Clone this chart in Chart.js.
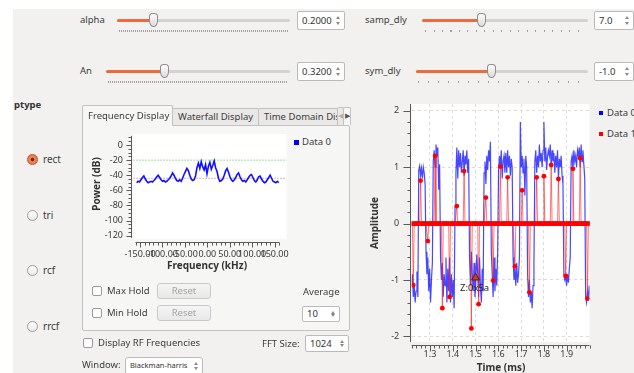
<!DOCTYPE html>
<html><head><meta charset="utf-8">
<script src="https://cdn.jsdelivr.net/npm/chart.js@4.4.1/dist/chart.umd.min.js"></script>
<style>
html,body{margin:0;padding:0}
body{width:634px;height:373px;position:relative;overflow:hidden;background:#ffffff;font-family:"Noto Sans",sans-serif;font-size:9.5px;color:#3c3c3c}
div{box-sizing:border-box}
#win{position:absolute;left:13px;top:9px;right:0;bottom:0;background:#f2f1f0}
.t{position:absolute;white-space:nowrap;line-height:12px;transform:translateY(-6px)}
.b{font-weight:bold;color:#333}
.track{position:absolute;height:3px;background:#d2d2d2;border-radius:2px}
.fill{position:absolute;height:3px;background:#ea6c3c;border-radius:2px}
.handle{position:absolute;width:9px;height:14px;background:linear-gradient(#fcfcfc,#dcdcdc);border:1px solid #8e8e8e;border-radius:4px 4px 5px 5px/4px 4px 7px 7px}
.dots{position:absolute;height:2px;background:repeating-linear-gradient(90deg,#a0a0a0 0 1px,transparent 1px 2px)}
.spin{position:absolute;background:#fff;border:1px solid #bababa;border-radius:2px;padding-left:4px;line-height:17px;font-size:9.5px;color:#333}
.up,.dn{position:absolute;width:0;height:0;border-left:2px solid transparent;border-right:2px solid transparent;right:4px}
.up{border-bottom:3px solid #8a8a8a;top:4px}
.dn{border-top:3px solid #8a8a8a;bottom:4px}
.radio{position:absolute;width:11px;height:11px;border-radius:50%;border:1px solid #9c9c9c;background:linear-gradient(#ffffff,#ebebeb)}
.radio.on{border-color:#c2532a;background:radial-gradient(circle,#7a2a12 0 1.6px,#f08a5e 2.2px,#e8693a 100%)}
.cb{position:absolute;width:10px;height:10px;border:1px solid #9a9a9a;border-radius:2px;background:#fff}
.btn{position:absolute;border:1px solid #c9c9c9;border-radius:3px;background:linear-gradient(#f5f5f5,#e8e8e8);color:#a4a4a4;text-align:center;line-height:14px}
.pane{position:absolute;border:1px solid #c2c2c2;background:#f6f6f5;border-radius:0 2px 2px 2px}
.tab{position:absolute;border:1px solid #c2c2c2;border-bottom:none;background:#e9e8e7;padding-left:5px;line-height:16px;white-space:nowrap;overflow:hidden;border-radius:2px 2px 0 0}
.tab.sel{background:#f6f6f5;line-height:20px;z-index:2}
.sq{position:absolute}
canvas{position:absolute}
</style></head>
<body>
<div id="win"></div>

<!-- top controls -->
<div class="t" style="left:80px;top:20px">alpha</div>
<div class="track" style="left:117px;top:19px;width:173px"></div>
<div class="fill" style="left:117px;top:19px;width:34px"></div>
<div class="handle" style="left:149px;top:13px"></div>
<div class="dots" style="left:119px;top:30px;width:169px"></div>
<div class="spin" style="left:297px;top:11px;width:48px;height:19px">0.2000<div class="up"></div><div class="dn"></div></div>

<div class="t" style="left:365px;top:20px">samp_dly</div>
<div class="track" style="left:422px;top:19px;width:166px"></div>
<div class="fill" style="left:422px;top:19px;width:56px"></div>
<div class="handle" style="left:477px;top:13px"></div>
<div class="dots" style="left:425px;top:30px;width:161px;background:repeating-linear-gradient(90deg,#a0a0a0 0 1px,transparent 1px 8.5px)"></div>
<div class="spin" style="left:594px;top:11px;width:40px;height:19px">7.0<div class="up"></div><div class="dn"></div></div>

<div class="t" style="left:80px;top:71px">An</div>
<div class="track" style="left:106px;top:70px;width:184px"></div>
<div class="fill" style="left:106px;top:70px;width:56px"></div>
<div class="handle" style="left:160px;top:64px"></div>
<div class="dots" style="left:108px;top:81px;width:180px"></div>
<div class="spin" style="left:297px;top:62px;width:48px;height:19px">0.3200<div class="up"></div><div class="dn"></div></div>

<div class="t" style="left:365px;top:71px">sym_dly</div>
<div class="track" style="left:416px;top:70px;width:172px"></div>
<div class="fill" style="left:416px;top:70px;width:73px"></div>
<div class="handle" style="left:487px;top:64px"></div>
<div class="dots" style="left:418px;top:81px;width:168px;background:repeating-linear-gradient(90deg,#a0a0a0 0 1px,transparent 1px 10px)"></div>
<div class="spin" style="left:594px;top:62px;width:40px;height:19px">-1.0<div class="up"></div><div class="dn"></div></div>

<!-- ptype radios -->
<div class="t b" style="left:14px;top:105px">ptype</div>
<div class="radio on" style="left:26.5px;top:153.5px"></div><div class="t" style="left:43px;top:159px;font-size:10px">rect</div>
<div class="radio" style="left:26.5px;top:209.5px"></div><div class="t" style="left:43px;top:215px;font-size:10px">tri</div>
<div class="radio" style="left:26.5px;top:264.5px"></div><div class="t" style="left:43px;top:270px;font-size:10px">rcf</div>
<div class="radio" style="left:26.5px;top:320.5px"></div><div class="t" style="left:43px;top:326px;font-size:10px">rrcf</div>

<!-- tab widget -->
<div class="pane" style="left:82px;top:125px;width:268px;height:206px"></div>
<div class="tab sel" style="left:82px;top:105px;width:91px;height:21px">Frequency Display</div>
<div class="tab" style="left:172px;top:108px;width:87px;height:17px">Waterfall Display</div>
<div class="tab" style="left:258px;top:108px;width:80px;height:17px">Time Domain Display</div>
<div class="tab" style="left:337px;top:107px;width:7px;height:18px;padding:0;color:#b0b0b0;font-size:7px;text-align:center">&#9664;</div>
<div class="tab" style="left:343px;top:107px;width:8px;height:18px;padding:0;color:#555;font-size:7px;text-align:center;background:#f6f6f5">&#9654;</div>

<canvas id="fc" width="208" height="147" style="left:84px;top:128px"></canvas>
<div class="t b" style="left:96px;top:184px;transform:translate(-50%,-50%) rotate(-90deg);font-size:10px">Power (dB)</div>
<div class="t b" style="left:207px;top:265px;transform:translate(-50%,-50%);font-size:10px">Frequency (kHz)</div>
<div class="sq" style="left:294px;top:140px;width:5px;height:5px;background:#0000ff"></div>
<div class="t" style="left:302px;top:142px">Data 0</div>

<div class="cb" style="left:92px;top:286px"></div><div class="t" style="left:107px;top:291px">Max Hold</div>
<div class="btn" style="left:157px;top:283px;width:54px;height:16px">Reset</div>
<div class="cb" style="left:92px;top:308px"></div><div class="t" style="left:107px;top:313px">Min Hold</div>
<div class="btn" style="left:157px;top:305px;width:54px;height:16px">Reset</div>
<div class="t" style="left:303px;top:292px">Average</div>
<div class="spin" style="left:302px;top:306px;width:38px;height:16px;line-height:14px">10<div class="up"></div><div class="dn"></div></div>

<div class="cb" style="left:83px;top:338px"></div><div class="t" style="left:98px;top:343px">Display RF Frequencies</div>
<div class="t" style="left:262px;top:344px">FFT Size:</div>
<div class="spin" style="left:305px;top:335px;width:44px;height:17px;line-height:15px">1024<div class="up"></div><div class="dn"></div></div>
<div class="t" style="left:82px;top:365px">Window:</div>
<div class="spin" style="left:125px;top:357px;width:78px;height:18px;line-height:15px;font-size:7.5px;border-radius:3px">Blackman-harris<div class="up"></div><div class="dn"></div></div>

<!-- time plot -->
<canvas id="tc" width="225" height="278" style="left:370px;top:95px"></canvas>
<div class="t b" style="left:374px;top:223px;transform:translate(-50%,-50%) rotate(-90deg);font-size:10px">Amplitude</div>
<div class="t b" style="left:501px;top:367px;transform:translate(-50%,-50%);font-size:10px">Time (ms)</div>
<div class="sq" style="left:599px;top:111px;width:4px;height:4px;background:#0000ff"></div>
<div class="t" style="left:607px;top:113px">Data 0</div>
<div class="sq" style="left:599px;top:132px;width:4px;height:4px;background:#ff0000"></div>
<div class="t" style="left:607px;top:134px">Data 1</div>
<div class="t" style="left:460px;top:288px;color:#222">Z:0x5a</div>

<script>
// ---------- data ----------
const timeTickLabels = [1.3, 1.4, 1.5, 1.6, 1.7, 1.8, 1.9];
const ampTickLabels = [-2, -1, 0, 1, 2];
const freqTickLabels = [-150, -100, -50, 0, 50, 100, 150];
const powerTickLabels = [0, -20, -40, -60, -80, -100, -120];

const timeStart = 1.2191;     // ms, first sample on screen
const timeStep = 0.003979;    // ms per sample
const samplesPerSymbol = 8;
const symbolOffset = 2;

// Data 0 (blue)
const data0 = [
 -1.05,-0.9,-1.3,-1.1,-1.4,-1.2,-0.85,-1.3,
 0.95,1.02,0.85,0.98,0.8,1.0,0.9,0.7,
 -0.5,-0.9,-0.6,-1.2,-0.8,-1.4,-1.0,-0.7,
 1.1,1.3,1.0,1.4,1.2,1.35,0.6,1.05,
 -0.6,-1.0,-0.7,-1.3,-0.9,-1.1,-0.6,-1.4,
 -0.8,-1.2,-0.6,-1.4,-0.9,-1.3,-1.0,-1.5,
 0.3,0.9,1.35,0.8,1.3,1.0,1.25,0.9,
 1.1,1.3,0.85,1.2,1.05,1.3,0.9,1.15,
 -0.6,-1.1,-0.5,-0.9,-1.2,-0.7,-1.3,-1.0,
 -0.55,-0.9,-1.3,-0.6,-1.1,-1.4,-0.8,-1.2,
 0.9,1.1,0.7,1.2,0.95,1.3,1.1,1.45,
 -0.5,-0.9,-1.3,-0.6,-1.2,-0.8,-1.1,-0.5,
 0.95,1.2,1.0,1.3,0.8,1.1,1.2,0.9,
 1.25,0.9,1.3,1.0,1.2,0.85,1.15,1.0,
 -0.6,-1.0,-0.8,-1.1,-0.7,-1.05,-0.9,-0.6,
 1.8,1.0,1.2,0.9,1.15,0.5,1.2,1.0,
 -0.9,-1.3,-1.0,-1.4,-1.2,-1.5,-1.1,-0.7,
 1.1,1.3,0.9,1.2,1.0,1.4,1.1,1.25,
 1.0,1.3,1.8,1.1,1.35,0.95,1.2,1.3,
 1.2,1.4,1.0,1.3,1.1,1.25,0.9,1.2,
 1.0,1.3,0.8,1.15,1.0,1.2,0.85,0.7,
 -0.9,-1.0,-0.95,-1.1,-0.9,-1.05,-0.8,-0.6,
 1.1,1.2,0.95,1.3,1.1,1.2,1.0,1.3,
 1.2,1.35,1.0,1.4,1.1,1.3,1.05,0.8,
 -1.3,-1.4,-1.2,-1.3,-1.1,-1.35
];

// Data 1 (red): symbol impulses, zero between them
const data1Symbols = [-1.09,0.76,-0.31,1.2,-1.5,-1.3,0.31,0.93,-1.86,-1.43,0.46,-1.01,1.01,0.82,-0.76,0.59,-1.22,0.82,0.84,1.04,0.79,-0.93,0.97,1.16,-1.33];

const tagTime = 1.5, tagAmp = -0.96;

// spectrum
const fftStart = -157.5, fftStep = 3.2;   // kHz
const spectrum = [
 -50,-48,-49,-46,-43,-41,-45,-48,-50,-49,
 -48,-49,-47,-45,-42,-40,-43,-46,-48,-47,
 -49,-48,-46,-44,-41,-37,-40,-44,-47,-48,
 -46,-48,-44,-39,-35,-31,-34,-40,-45,-47,
 -46,-41,-30,-24,-31,-22,-29,-33,-26,-38,
 -28,-23,-32,-27,-21,-30,-35,-44,-48,-47,
 -45,-40,-34,-31,-36,-42,-46,-48,-46,-43,
 -39,-37,-42,-46,-48,-47,-49,-46,-43,-40,
 -39,-43,-47,-49,-46,-42,-41,-45,-48,-50,
 -49,-46,-43,-40,-44,-48,-49,-50,-48,-50
];
const upperMarker = -20, lowerMarker = -44;

// ---------- build ----------
const timeAxis = data0.map((_, i) => timeStart + i * timeStep);
const data1 = timeAxis.map((_, i) => {
  const k = (i - symbolOffset) / samplesPerSymbol;
  return (Number.isInteger(k) && k >= 0 && k < data1Symbols.length) ? data1Symbols[k] : 0;
});
const freqAxis = spectrum.map((_, i) => fftStart + i * fftStep);

const plotBg = {id:'plotBg', beforeDraw(c){const r=c.chartArea, x=c.ctx; x.save(); x.fillStyle='#ffffff'; x.fillRect(r.left,r.top,r.width,r.height); x.restore();}};

function qwtAxes(cfg){
  return {id:'qwtAxes', afterDraw(c){
    const ctx=c.ctx, a=c.chartArea, xs=c.scales.x, ys=c.scales.y;
    ctx.save(); ctx.strokeStyle='#5a5a5a'; ctx.lineWidth=1; ctx.beginPath();
    const X=cfg.x, by=Math.round(a.bottom+X.gap)+0.5;
    ctx.moveTo(xs.getPixelForValue(X.from), by); ctx.lineTo(xs.getPixelForValue(X.to), by);
    const nx=Math.round((X.to-X.from)/X.minor);
    for(let i=0;i<=nx;i++){const v=X.from+i*X.minor; const maj=X.majors.some(m=>Math.abs(m-v)<1e-6);
      const px=Math.round(xs.getPixelForValue(v))+0.5; ctx.moveTo(px,by); ctx.lineTo(px,by+(maj?X.majLen:X.minLen));}
    const Y=cfg.y, bx=Math.round(a.left-Y.gap)-0.5;
    ctx.moveTo(bx, ys.getPixelForValue(Y.top)); ctx.lineTo(bx, ys.getPixelForValue(Y.bottom));
    const ny=Math.round((Y.to-Y.from)/Y.minor);
    for(let i=0;i<=ny;i++){const v=Y.from+i*Y.minor; const maj=Y.majors.some(m=>Math.abs(m-v)<1e-6);
      const py=Math.round(ys.getPixelForValue(v))+0.5; ctx.moveTo(bx,py); ctx.lineTo(bx-(maj?Y.majLen:Y.minLen),py);}
    ctx.stroke(); ctx.restore();
  }};
}

const tickFont = {family:'Noto Sans', size:9};

// frequency display
new Chart(document.getElementById('fc'), {
  type:'line',
  data:{datasets:[
    {label:'Data 0', data:freqAxis.map((f,i)=>({x:f,y:spectrum[i]})), borderColor:'#1010ff', borderWidth:1.6, pointRadius:0, order:0},
    {label:'upper', data:[{x:-165,y:upperMarker},{x:177,y:upperMarker}], borderColor:'#74dc74', borderWidth:1, borderDash:[1.5,1.5], pointRadius:0, order:1},
    {label:'lower', data:[{x:-165,y:lowerMarker},{x:177,y:lowerMarker}], borderColor:'#d69a9a', borderWidth:1, borderDash:[1.5,1.5], pointRadius:0, order:1}
  ]},
  options:{responsive:false, animation:false, events:[],
    layout:{padding:{top:6,right:5.3,left:0,bottom:0}},
    plugins:{legend:{display:false}, tooltip:{enabled:false}},
    scales:{
      x:{type:'linear', min:-165, max:177,
         afterBuildTicks:s=>{s.ticks=freqTickLabels.map(v=>({value:v}));},
         afterFit:s=>{s.height=36;},
         grid:{drawOnChartArea:false, drawTicks:true, tickLength:10, tickColor:'rgba(0,0,0,0)'}, border:{display:false},
         ticks:{autoSkip:false, maxRotation:0, minRotation:0, padding:0, color:'#3a3a3a', font:tickFont, callback:v=>v.toFixed(2)}},
      y:{type:'linear', min:-124.4, max:14.6,
         afterBuildTicks:s=>{s.ticks=powerTickLabels.map(v=>({value:v}));},
         afterFit:s=>{s.width=49.3;},
         grid:{drawOnChartArea:false, drawTicks:true, tickLength:10.3, tickColor:'rgba(0,0,0,0)'}, border:{display:false},
         ticks:{autoSkip:false, padding:0, color:'#3a3a3a', font:tickFont, callback:v=>String(v)}}
    }},
  plugins:[plotBg, qwtAxes({
    x:{gap:3, from:-160, to:160, minor:10, majors:freqTickLabels, majLen:5, minLen:3},
    y:{gap:1, from:-120, to:10, minor:5, majors:powerTickLabels, majLen:5, minLen:3, top:12, bottom:-123}
  })]
});

// time domain display
new Chart(document.getElementById('tc'), {
  type:'line',
  data:{datasets:[
    {label:'Data 1', data:timeAxis.map((t,i)=>({x:t,y:data1[i]})), borderColor:'rgba(255,30,30,0.6)', borderWidth:1, pointRadius:2.4, pointBackgroundColor:'#ff0000', pointBorderWidth:0, order:0},
    {label:'Data 0', data:timeAxis.map((t,i)=>({x:t,y:data0[i]})), borderColor:'rgba(0,0,255,0.72)', borderWidth:1.2, pointRadius:0, order:1},
    {label:'tag', data:[{x:tagTime,y:tagAmp}], showLine:false, pointStyle:'triangle', pointRadius:4.5, pointBackgroundColor:'#b8452c', pointBorderColor:'#5b1d10', pointBorderWidth:1, order:-1}
  ]},
  options:{responsive:false, animation:false, events:[],
    layout:{padding:{top:9,right:5,left:0,bottom:0}},
    plugins:{legend:{display:false}, tooltip:{enabled:false}},
    scales:{
      x:{type:'linear', min:1.22, max:2.0,
         afterBuildTicks:s=>{s.ticks=timeTickLabels.map(v=>({value:v}));},
         afterFit:s=>{s.height=31;},
         grid:{color:'#dcdcdc', drawTicks:true, tickLength:7, tickColor:'rgba(0,0,0,0)'}, border:{display:false, dash:[3,3]},
         ticks:{autoSkip:false, maxRotation:0, minRotation:0, padding:0, color:'#3a3a3a', font:tickFont, callback:v=>v.toFixed(1)}},
      y:{type:'linear', min:-2.1, max:2.12,
         afterBuildTicks:s=>{s.ticks=ampTickLabels.map(v=>({value:v}));},
         afterFit:s=>{s.width=41.7;},
         grid:{color:'#dcdcdc', drawTicks:true, tickLength:12.5, tickColor:'rgba(0,0,0,0)'}, border:{display:false, dash:[3,3]},
         ticks:{autoSkip:false, padding:0, color:'#3a3a3a', font:tickFont, callback:v=>String(v)}}
    }},
  plugins:[plotBg, qwtAxes({
    x:{gap:3, from:1.22, to:2.0, minor:0.02, majors:timeTickLabels, majLen:6, minLen:3},
    y:{gap:1, from:-2.0, to:2.0, minor:0.2, majors:ampTickLabels, majLen:7, minLen:3, top:2.12, bottom:-2.1}
  })]
});
</script>
</body></html>
